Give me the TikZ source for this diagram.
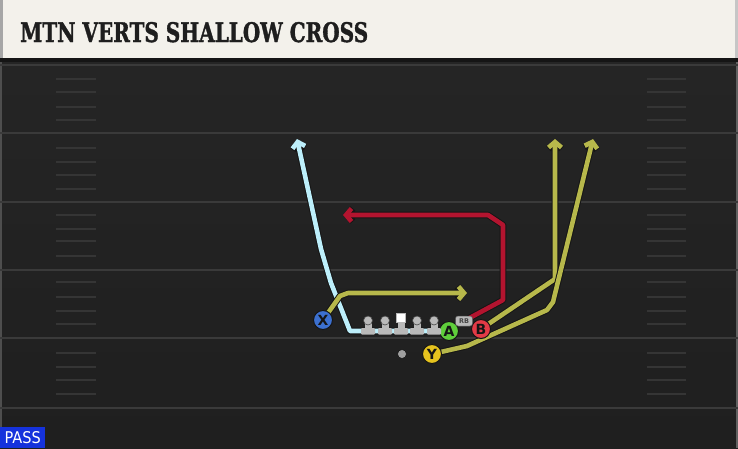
\documentclass[tikz,border=0pt]{standalone}
\usepackage{fontspec}
\setmainfont{DejaVu Sans}
\newfontfamily\titlefont{DejaVu Serif}[BoldFeatures={FakeBold=1.5}]
\newfontfamily\passfont{DejaVu Sans Condensed}
\usetikzlibrary{arrows.meta,calc}
\definecolor{fieldtop}{HTML}{252525}
\definecolor{fieldbot}{HTML}{1F1F1F}
\definecolor{titlebg}{HTML}{F3F1EB}
\definecolor{titletext}{HTML}{1E1E1E}
\definecolor{yardc}{HTML}{3A3A3A}
\definecolor{hashc}{HTML}{353535}
\definecolor{cyanr}{HTML}{BDEFFB}
\definecolor{redr}{HTML}{B3142F}
\definecolor{oliver}{HTML}{B7B84B}
\definecolor{xblue}{HTML}{3C70CF}
\definecolor{agreen}{HTML}{5FCE3B}
\definecolor{bred}{HTML}{E23A46}
\definecolor{yyellow}{HTML}{E6C31E}
\definecolor{linegray}{HTML}{B9B9B9}
\definecolor{passblue}{HTML}{1532DC}
\definecolor{outl}{HTML}{151515}
\pgfdeclarelayer{bg}
\pgfdeclarelayer{routes}
\pgfsetlayers{bg,routes,main}
\newcommand\myroute[2]{\draw[routeout] #2; \draw[routein,draw=#1] #2;}
\begin{document}
\begin{tikzpicture}[x=1pt,y=-1pt,
  yardline/.style={draw=yardc,line width=2.2pt},
  hashline/.style={draw=hashc,line width=1.5pt},
  routeout/.style={draw=outl,line width=6.6pt,line join=round,-{Straight Barb[length=5.5pt,width=13pt]}},
  routein/.style={line width=4.6pt,line join=round,-{Straight Barb[length=5.5pt,width=13pt]}},
  player/.style={circle,draw=outl,line width=1pt,minimum size=19pt,inner sep=0pt,text=outl,font=\fontsize{14}{14}\selectfont\bfseries},
  lhead/.style={circle,draw=outl!70!linegray,line width=0.6pt,fill=linegray,minimum size=9pt,inner sep=0pt},
  chead/.style={rectangle,draw=linegray,line width=0.6pt,fill=white,minimum size=9.5pt,inner sep=0pt},
  rbbox/.style={rectangle,rounded corners=2.5pt,fill=linegray,draw=outl!60!linegray,line width=0.5pt,minimum width=17pt,minimum height=10pt,inner sep=0pt,text=outl!80,font=\fontsize{6.5}{6.5}\selectfont\bfseries},
  qbdot/.style={circle,fill=gray!75,draw=outl,line width=0.6pt,minimum size=9pt,inner sep=0pt}]
\useasboundingbox (0,0) rectangle (738,448);
\begin{pgfonlayer}{bg}
  \shade[top color=fieldtop,bottom color=fieldbot] (0,62) rectangle (738,448);
  \fill[yardc!90] (0,62) rectangle (2,448);
  \fill[yardc!80] (736,62) rectangle (738,448);
  \fill[titlebg] (0,0) rectangle (738,58);
  \fill[gray!70] (0,0) rectangle (3,58);
  \fill[gray!45] (735,0) rectangle (738,58);
  \fill[outl] (0,58) rectangle (738,62);
  \foreach \y in {65,133,202,270,338,408} \draw[yardline] (0,\y) -- (738,\y);
  \foreach \y in {79,92,107,120,148,162,175,189,215,229,241,256,282,297,311,324,353,367,380,394} {
    \draw[hashline] (56,\y) -- (96,\y);
    \draw[hashline] (647,\y) -- (686,\y);
  }
\end{pgfonlayer}
% title
\node[anchor=base west,inner sep=0pt,text=titletext] (title) at (20,42) {\resizebox{348pt}{20pt}{\titlefont\bfseries MTN VERTS SHALLOW CROSS}};
% players
\node[player,fill=xblue] (X) at (323,320) {X};
\node[player,fill=agreen] (A) at (449,331) {A};
\node[player,fill=bred] (B) at (481,329) {B};
\node[player,fill=yyellow] (Y) at (432,354) {Y};
\node[rbbox] (RB) at (464,321) {RB};
\node[qbdot] (QB) at (402,354) {};
% offensive line
\foreach \n/\x in {lt/368,lg/385,cc/401,rg/417,rt/434} {
  \fill[linegray] (\x-3.5,320) rectangle (\x+3.5,330);
  \fill[linegray,rounded corners=1pt] (\x-7,328) rectangle (\x+7,334.5);
}
\foreach \n/\x in {lt/368,lg/385,rg/417,rt/434} \node[lhead] (\n) at (\x,320.5) {};
\node[chead] (cc) at (401,318) {};
% route bend points
\coordinate (c1) at (350,331);
\coordinate (c2) at (331,283);
\coordinate (c3) at (321,249);
\coordinate (cend) at (297,139);
\coordinate (r1) at (503,300);
\coordinate (r2) at (503,225);
\coordinate (r3) at (488,215);
\coordinate (rend) at (343,215);
\coordinate (x1) at (340,296);
\coordinate (x2) at (348,293);
\coordinate (xend) at (467,293);
\coordinate (b1) at (555,279);
\coordinate (bend) at (555,139);
\coordinate (y1) at (467,346);
\coordinate (y2) at (547,310);
\coordinate (y3) at (553,302);
\coordinate (yend) at (593,139);
\begin{pgfonlayer}{routes}
  \myroute{cyanr}{(A.center) -- (c1) -- (c2) -- (c3) -- (cend)}
  \myroute{redr}{(RB.center) -- (r1) -- (r2) -- (r3) -- (rend)}
  \myroute{oliver}{(X.center) -- (x1) -- (x2) -- (xend)}
  \myroute{oliver}{(B.center) -- (b1) -- (bend)}
  \myroute{oliver}{(Y.center) -- (y1) -- (y2) -- (y3) -- (yend)}
\end{pgfonlayer}
% pass label
\node[fill=passblue,anchor=south west,minimum width=45pt,minimum height=21pt,inner sep=0pt,text=white] (pass) at (0,448) {\resizebox{36pt}{12pt}{\passfont PASS}};
\end{tikzpicture}
\end{document}
